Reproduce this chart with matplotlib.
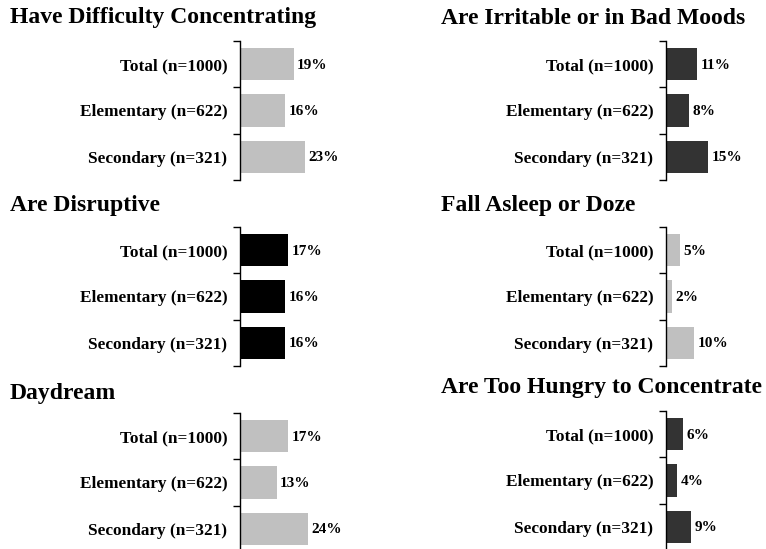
import matplotlib
matplotlib.use("Agg")
import matplotlib.pyplot as plt

plt.rcParams['font.family'] = ['Liberation Serif', 'DejaVu Serif']
plt.rcParams['font.weight'] = 'bold'

categories = ["Total (n=1000)", "Elementary (n=622)", "Secondary (n=321)"]
titles = ["Have Difficulty Concentrating", "Are Disruptive", "Daydream",
          "Are Irritable or in Bad Moods", "Fall Asleep or Doze", "Are Too Hungry to Concentrate"]
difficulty = [19, 16, 23]
disruptive = [17, 16, 16]
daydream = [17, 13, 24]
irritable = [11, 8, 15]
asleep = [5, 2, 10]
hungry = [6, 4, 9]
series = [difficulty, disruptive, daydream, irritable, asleep, hungry]
colors = ["#C0C0C0", "#000000", "#C0C0C0", "#333333", "#C0C0C0", "#333333"]

W, H = 766, 549
fig = plt.figure(figsize=(W/100, H/100), dpi=100)

axis_x = [240, 240, 240, 666, 666, 666]
title_x = [10, 10, 10, 441, 441, 441]
title_y = [18, 205, 393, 18, 205, 388]
ax_top = [41, 227, 413, 41, 227, 411]
ax_h = 139
scale = 2.83  # px per percent
xmax = 40

for i in range(6):
    left = axis_x[i] / W
    width = xmax * scale / W
    bottom = 1 - (ax_top[i] + ax_h) / H
    ax = fig.add_axes([left, bottom, width, ax_h / H])
    vals = series[i]
    ypos = list(range(len(categories)))
    ax.barh(ypos, vals, height=0.7, color=colors[i], edgecolor='none')
    for y, v in zip(ypos, vals):
        ax.text(v + 1.2, y + 0.02, f"{v}%", va='center', ha='left', fontsize=11, fontweight='bold')
    ax.set_xlim(0, xmax)
    ax.set_ylim(2.5, -0.5)
    ax.set_yticks(ypos)
    ax.set_yticklabels(categories, fontsize=12.4, fontweight='bold')
    ax.set_yticks([-0.5, 0.5, 1.5, 2.5], minor=True)
    ax.tick_params(axis='y', which='major', length=0, pad=9)
    ax.tick_params(axis='y', which='minor', length=5, width=1, direction='out')
    ax.set_xticks([])
    for s in ['top', 'right', 'bottom']:
        ax.spines[s].set_visible(False)
    ax.spines['left'].set_linewidth(1)
    fig.text(title_x[i] / W, 1 - title_y[i] / H, titles[i], fontsize=17, fontweight='bold',
             ha='left', va='center')

fig.savefig("out.png", dpi=100)
